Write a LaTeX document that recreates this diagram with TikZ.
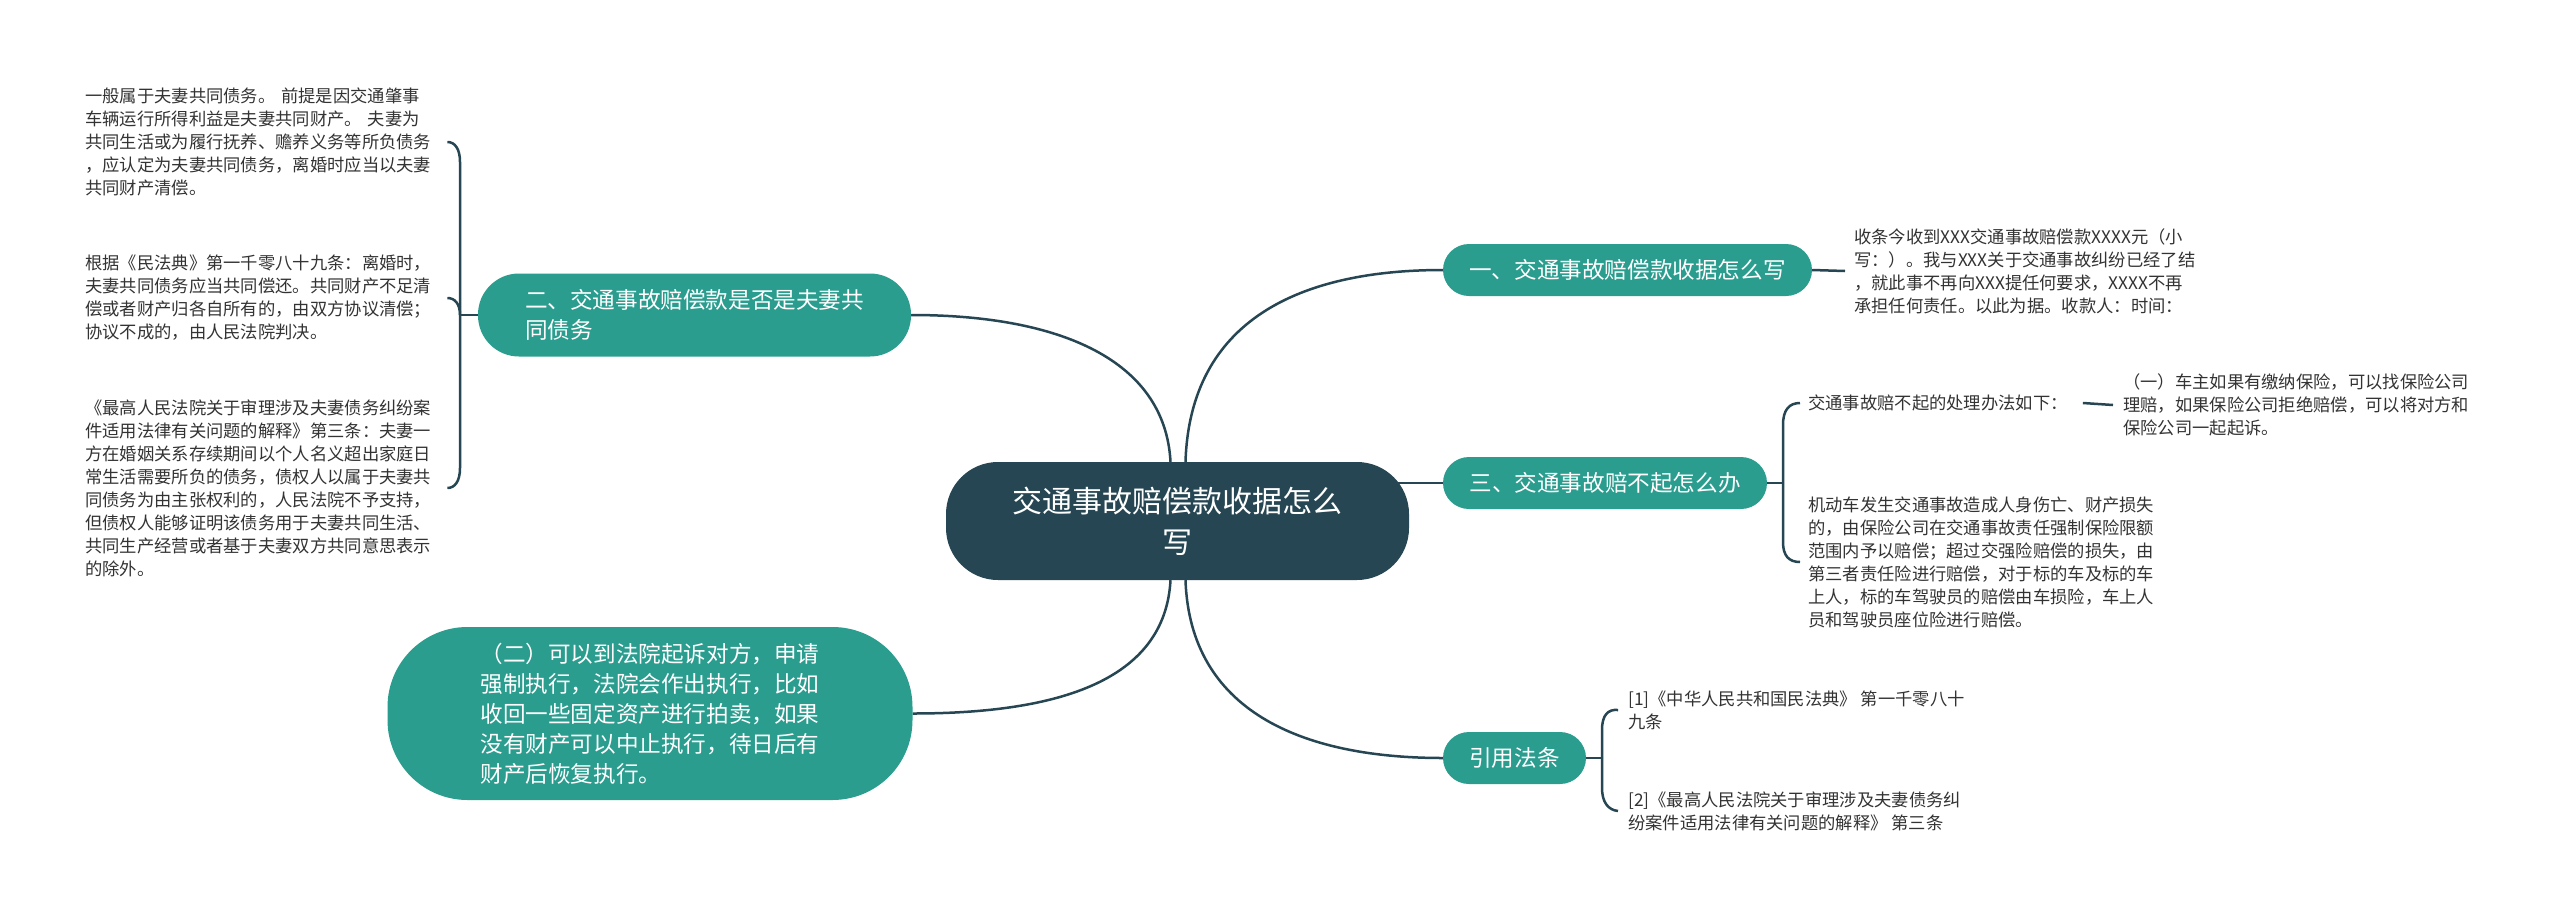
\documentclass[tikz,border=0pt]{standalone}
\usepackage{fontspec}
\setmainfont{Noto Sans CJK SC}
\usetikzlibrary{calc}
\definecolor{mmteal}{HTML}{2A9D8F}
\definecolor{mmdark}{HTML}{264653}
\definecolor{mmtext}{HTML}{333333}
\pgfdeclarelayer{bg}
\pgfdeclarelayer{paper}
\pgfsetlayers{paper,bg,main}
\begin{document}
\begin{tikzpicture}[x=1pt,y=1pt,
  leaf/.style={anchor=west,inner sep=0pt,align=left,text=mmtext,font=\fontsize{17.3}{23}\selectfont},
  branch/.style={fill=mmteal,text=white,inner sep=0pt,rounded corners=26pt,minimum height=52pt,font=\fontsize{22.6}{30}\selectfont},
  link/.style={draw=mmdark,line width=2.5pt},
  brace/.style={draw=mmdark,line width=2.5pt}]
\begin{pgfonlayer}{paper}
\fill[white] (0,0) rectangle (2560,-916);
\end{pgfonlayer}
\useasboundingbox (0,0) rectangle (2560,-916);

% centre
\node[fill=mmdark,text=white,rounded corners=52pt,minimum width=463pt,minimum height=118pt,inner sep=0pt,align=center,font=\fontsize{30}{41}\selectfont] (c) at (1177.5,-521) {交通事故赔偿款收据怎么\\写};

% branches
\node[branch,minimum width=369pt] (b1) at (1627.5,-270) {一、交通事故赔偿款收据怎么写};
\node[branch,minimum width=324pt] (b3) at (1605,-483) {三、交通事故赔不起怎么办};
\node[branch,minimum width=143pt] (b4) at (1514.5,-758) {引用法条};
\node[branch,minimum width=433pt,minimum height=83pt,rounded corners=41pt,align=left] (b2) at (694.5,-315) {二、交通事故赔偿款是否是夫妻共\\同债务};
\node[branch,minimum width=525pt,minimum height=173pt,rounded corners=80pt,align=left] (b5) at (650,-713.5) {（二）可以到法院起诉对方，申请\\强制执行，法院会作出执行，比如\\收回一些固定资产进行拍卖，如果\\没有财产可以中止执行，待日后有\\财产后恢复执行。};

% right leaves
\node[leaf] (l1) at (1854,-271) {收条今收到XXX交通事故赔偿款XXXX元（小\\写：）。我与XXX关于交通事故纠纷已经了结\\，就此事不再向XXX提任何要求，XXXX不再\\承担任何责任。以此为据。收款人：时间：};
\node[leaf] (l3a) at (1808,-403) {交通事故赔不起的处理办法如下：};
\node[leaf] (l3c) at (2123,-405) {（一）车主如果有缴纳保险，可以找保险公司\\理赔，如果保险公司拒绝赔偿，可以将对方和\\保险公司一起起诉。};
\node[leaf] (l3b) at (1808,-562) {机动车发生交通事故造成人身伤亡、财产损失\\的，由保险公司在交通事故责任强制保险限额\\范围内予以赔偿；超过交强险赔偿的损失，由\\第三者责任险进行赔偿，对于标的车及标的车\\上人，标的车驾驶员的赔偿由车损险，车上人\\员和驾驶员座位险进行赔偿。};
\node[leaf] (r1) at (1628,-710) {[1]《中华人民共和国民法典》 第一千零八十\\九条};
\node[leaf] (r2) at (1628,-811) {[2]《最高人民法院关于审理涉及夫妻债务纠\\纷案件适用法律有关问题的解释》 第三条};

% left leaves
\node[leaf,text width=362pt] (k1) at (85,-142) {一般属于夫妻共同债务。 前提是因交通肇事\\车辆运行所得利益是夫妻共同财产。 夫妻为\\共同生活或为履行抚养、赡养义务等所负债务\\，应认定为夫妻共同债务，离婚时应当以夫妻\\共同财产清偿。};
\node[leaf,text width=362pt] (k2) at (85,-298) {根据《民法典》第一千零八十九条：离婚时，\\夫妻共同债务应当共同偿还。共同财产不足清\\偿或者财产归各自所有的，由双方协议清偿；\\协议不成的，由人民法院判决。};
\node[leaf,text width=362pt] (k3) at (85,-488) {《最高人民法院关于审理涉及夫妻债务纠纷案\\件适用法律有关问题的解释》第三条：夫妻一\\方在婚姻关系存续期间以个人名义超出家庭日\\常生活需要所负的债务，债权人以属于夫妻共\\同债务为由主张权利的，人民法院不予支持，\\但债权人能够证明该债务用于夫妻共同生活、\\共同生产经营或者基于夫妻双方共同意思表示\\的除外。};

\coordinate (j0) at ($(c.east |- b3.west)+(-15,0)$);

\begin{pgfonlayer}{bg}
% centre to branches
\draw[link] ([xshift=8pt]c.north) .. controls (1190,-320) and (1300,-270) .. (b1.west);
\draw[link] ([xshift=-7pt]c.north) .. controls (1165,-360) and (1060,-315) .. (b2.east);
\draw[link] ([xshift=-7pt]c.south) .. controls (1165,-680) and (1060,-713.5) .. (b5.east);
\draw[link] ([xshift=8pt]c.south) .. controls (1190,-710) and (1300,-758) .. (b4.west);
\draw[link] (j0) -- (b3.west);
\end{pgfonlayer}

% branch one
\draw[link] (b1.east) -- ([xshift=-9pt]l1.west);

% branch three bracket
\draw[brace] (b3.east) -- (1783,-483);
\draw[brace] (1783,-483) -- (1783,-425) .. controls (1783,-410) and (1789,-403) .. ([xshift=-8pt]l3a.west);
\draw[brace] (1783,-483) -- (1783,-542) .. controls (1783,-556) and (1789,-562) .. ([xshift=-8pt]l3b.west);
\draw[link] ([xshift=15pt]l3a.east) -- ([xshift=-10pt]l3c.west);

% references bracket
\draw[brace] (b4.east) -- (1602,-758);
\draw[brace] (1602,-758) -- (1602,-730) .. controls (1602,-715) and (1608,-709) .. ([xshift=-10pt]r1.west);
\draw[brace] (1602,-758) -- (1602,-788) .. controls (1602,-802) and (1608,-810) .. ([xshift=-10pt]r2.west);

% branch two bracket
\draw[brace] (b2.west) -- (460,-315);
\draw[brace] (460,-315) -- (460,-162) .. controls (460,-149) and (455,-142) .. (k1.east);
\draw[brace] (460,-315) .. controls (460,-304) and (455,-298) .. (k2.east);
\draw[brace] (460,-315) -- (460,-468) .. controls (460,-481) and (455,-488) .. (k3.east);
\end{tikzpicture}
\end{document}
